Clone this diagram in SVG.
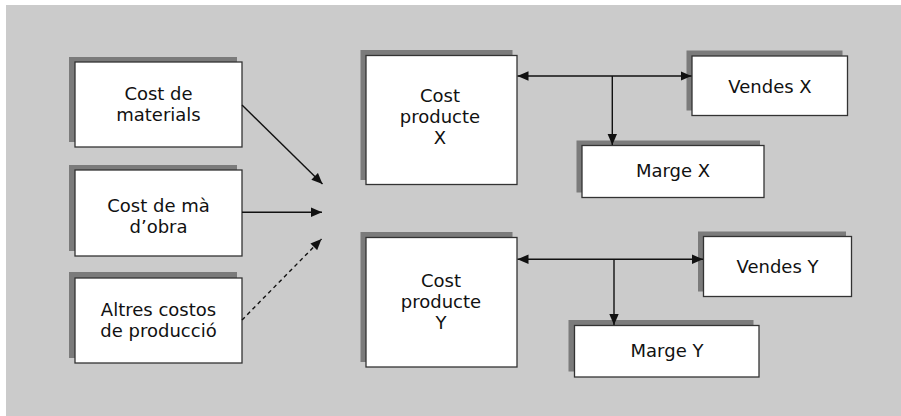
<svg xmlns="http://www.w3.org/2000/svg" width="901" height="416" viewBox="0 0 901 416">
  <defs>
    <marker id="arrow" viewBox="0 0 11 10" refX="11" refY="5" markerWidth="11" markerHeight="10" markerUnits="userSpaceOnUse" orient="auto-start-reverse">
      <path d="M0,0.3 L11,5 L0,9.7 Z" fill="#111"/>
    </marker>
  </defs>
  <style>
    .shadow { fill: #7b7b7b; }
    .box { fill: #ffffff; stroke: #333333; stroke-width: 1.3; }
    .label { font-family: "DejaVu Sans", "Open Sans", sans-serif; font-size: 18px; fill: #111111; text-anchor: middle; }
    .edge { stroke: #111111; stroke-width: 1.4; fill: none; }
    .dashed { stroke-dasharray: 4 3.5; }
  </style>

  <!-- panel background -->
  <rect x="6" y="5" width="895" height="411" fill="#cbcbcb"/>

  <g id="cost-materials">
    <rect class="shadow" x="69" y="57" width="168" height="85"/>
    <rect class="box" x="75" y="62" width="167" height="85"/>
    <text class="label" x="158.5" y="100">Cost de<tspan x="158.5" dy="21">materials</tspan></text>
  </g>

  <g id="cost-ma-obra">
    <rect class="shadow" x="69" y="165" width="168" height="86"/>
    <rect class="box" x="75" y="170" width="167" height="86"/>
    <text class="label" x="158.5" y="211.5">Cost de mà<tspan x="158.5" dy="21">d’obra</tspan></text>
  </g>

  <g id="altres-costos">
    <rect class="shadow" x="69" y="272" width="168" height="86"/>
    <rect class="box" x="75" y="278" width="167" height="85"/>
    <text class="label" x="158.5" y="316">Altres costos<tspan x="158.5" dy="21">de producció</tspan></text>
  </g>

  <g id="cost-producte-x">
    <rect class="shadow" x="360.5" y="50" width="152" height="130"/>
    <rect class="box" x="366" y="55.5" width="151" height="129"/>
    <text class="label" x="440" y="101.5">Cost<tspan x="440" dy="21">producte</tspan><tspan x="440" dy="21.2">X</tspan></text>
  </g>

  <g id="cost-producte-y">
    <rect class="shadow" x="360.5" y="232" width="152" height="130"/>
    <rect class="box" x="366" y="237.5" width="151" height="129.5"/>
    <text class="label" x="441" y="286.5">Cost<tspan x="441" dy="21">producte</tspan><tspan x="441" dy="21.2">Y</tspan></text>
  </g>

  <g id="vendes-x">
    <rect class="shadow" x="686.5" y="50.5" width="156" height="60"/>
    <rect class="box" x="692" y="56" width="155.5" height="59.5"/>
    <text class="label" x="770" y="92.5">Vendes X</text>
  </g>

  <g id="marge-x">
    <rect class="shadow" x="576.5" y="140.5" width="183.5" height="52"/>
    <rect class="box" x="582" y="145.5" width="182" height="52"/>
    <text class="label" x="673" y="176.5">Marge X</text>
  </g>

  <g id="vendes-y">
    <rect class="shadow" x="698" y="231.5" width="148" height="60"/>
    <rect class="box" x="703.5" y="236.5" width="148" height="60"/>
    <text class="label" x="777.5" y="272.5">Vendes Y</text>
  </g>

  <g id="marge-y">
    <rect class="shadow" x="568.5" y="320" width="185" height="51.5"/>
    <rect class="box" x="574.5" y="325.5" width="184.5" height="51.5"/>
    <text class="label" x="667" y="356.5">Marge Y</text>
  </g>

  <g id="connectors">
    <line class="edge" x1="242" y1="105" x2="322.5" y2="184" marker-end="url(#arrow)"/>
    <line class="edge" x1="242" y1="212.3" x2="322" y2="212.3" marker-end="url(#arrow)"/>
    <line class="edge dashed" x1="242" y1="320" x2="321.5" y2="239" marker-end="url(#arrow)"/>

    <line class="edge" x1="517.5" y1="76" x2="691.5" y2="76" marker-start="url(#arrow)" marker-end="url(#arrow)"/>
    <line class="edge" x1="612.3" y1="76" x2="612.3" y2="145" marker-end="url(#arrow)"/>

    <line class="edge" x1="517.5" y1="259.3" x2="703" y2="259.3" marker-start="url(#arrow)" marker-end="url(#arrow)"/>
    <line class="edge" x1="614" y1="259.3" x2="614" y2="325" marker-end="url(#arrow)"/>
  </g>
</svg>
